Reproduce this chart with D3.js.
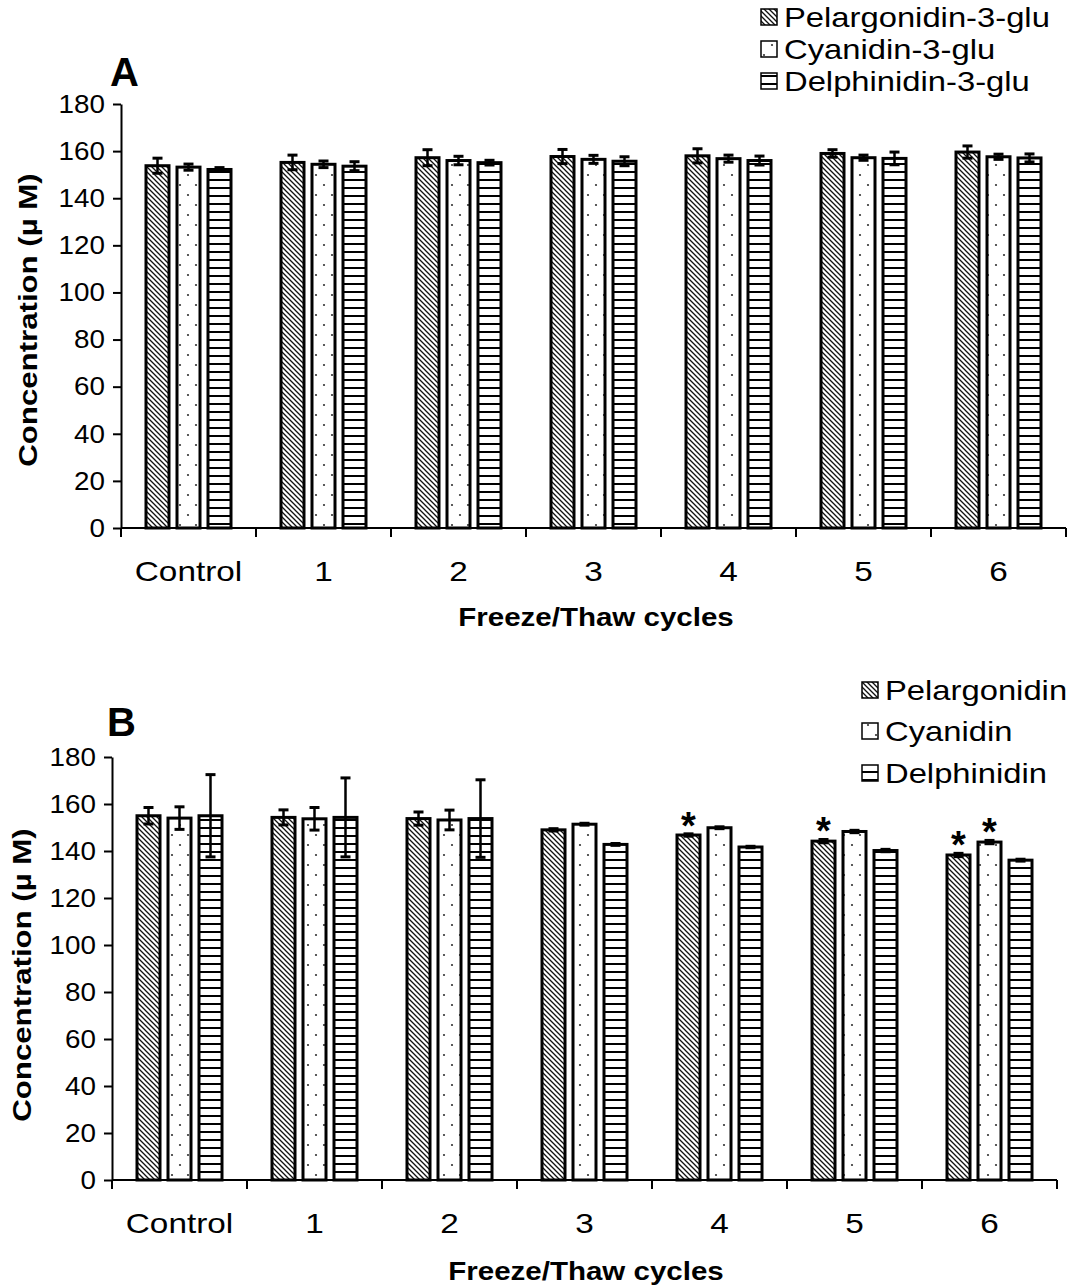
<!DOCTYPE html>
<html>
<head>
<meta charset="utf-8">
<script src="https://cdn.jsdelivr.net/npm/d3@7"></script>
<style>
  body { margin: 0; background: #fff; }
  svg { display: block; }
  text { font-family: "Liberation Sans", Arial, Helvetica, sans-serif; fill: #000; }
</style>
</head>
<body>
<svg id="chart" width="1077" height="1288"></svg>
<script>
// ---- data ----
const categories = ["Control", "1", "2", "3", "4", "5", "6"];
const yTicks = [0, 20, 40, 60, 80, 100, 120, 140, 160, 180];

// Panel A: glucosides
const seriesA = ["Pelargonidin-3-glu", "Cyanidin-3-glu", "Delphinidin-3-glu"];
const pelargonidinGlu    = [153.8, 155.2, 157.2, 157.7, 158.0, 159.0, 159.6];
const pelargonidinGluErr = [3.2, 3.1, 3.4, 3.0, 3.0, 1.6, 2.6];
const cyanidinGlu        = [153.2, 154.4, 156.0, 156.5, 156.8, 157.2, 157.6];
const cyanidinGluErr     = [1.3, 1.4, 1.8, 1.7, 1.5, 1.1, 1.1];
const delphinidinGlu     = [152.2, 153.6, 155.1, 155.7, 156.0, 156.9, 157.1];
const delphinidinGluErr  = [0.8, 1.9, 1.0, 1.9, 1.9, 2.7, 1.7];

// Panel B: aglycones
const seriesB = ["Pelargonidin", "Cyanidin", "Delphinidin"];
const pelargonidin    = [155.0, 154.3, 153.8, 149.0, 146.8, 144.2, 138.3];
const pelargonidinErr = [3.5, 3.2, 2.8, 0.5, 0.5, 0.7, 0.7];
const cyanidin        = [154.0, 153.7, 153.2, 151.4, 149.9, 148.3, 143.8];
const cyanidinErr     = [4.8, 4.8, 4.2, 0.4, 0.4, 0.5, 0.7];
const delphinidin     = [155.0, 154.3, 153.8, 142.8, 141.7, 140.2, 136.1];
const delphinidinErr  = [17.5, 16.8, 16.5, 0.4, 0.3, 0.5, 0.4];
// significance marks (*) per category
const pelargonidinStar = [false, false, false, false, true, true, true];
const cyanidinStar     = [false, false, false, false, false, false, true];
const delphinidinStar  = [false, false, false, false, false, false, false];

// ---- drawing ----
const svg = d3.select("#chart");
const font = '"Liberation Sans", Arial, Helvetica, sans-serif';

// fill patterns: diagonal hatch, sparse dots, horizontal lines
const defs = svg.append("defs");
const pDiag = defs.append("pattern").attr("id", "diag")
  .attr("patternUnits", "userSpaceOnUse").attr("width", 5).attr("height", 5);
pDiag.append("rect").attr("width", 5).attr("height", 5).attr("fill", "#fff");
pDiag.append("path").attr("d", "M-1,-1 L6,6 M-1,4 L1,6 M4,-1 L6,1")
  .attr("stroke", "#111").attr("stroke-width", 1.3);

const pDots = defs.append("pattern").attr("id", "dots")
  .attr("patternUnits", "userSpaceOnUse").attr("width", 16).attr("height", 20);
pDots.append("rect").attr("width", 16).attr("height", 20).attr("fill", "#fff");
pDots.append("circle").attr("cx", 4).attr("cy", 5).attr("r", 1.1).attr("fill", "#333");
pDots.append("circle").attr("cx", 12).attr("cy", 15).attr("r", 1.1).attr("fill", "#333");

const pLines = defs.append("pattern").attr("id", "hlines")
  .attr("patternUnits", "userSpaceOnUse").attr("width", 8).attr("height", 8);
pLines.append("rect").attr("width", 8).attr("height", 8).attr("fill", "#fff");
pLines.append("line").attr("x1", 0).attr("x2", 8).attr("y1", 4).attr("y2", 4)
  .attr("stroke", "#000").attr("stroke-width", 2);

const fills = ["url(#diag)", "url(#dots)", "url(#hlines)"];

// horizontally widened text placed at (x, y)
function wideText(sel, x, y, size, sx, str, anchor) {
  return sel.append("text")
    .attr("transform", `translate(${x},${y}) scale(${sx},1)`)
    .attr("text-anchor", anchor || "start")
    .attr("font-size", size).text(str);
}

function drawPanel(p) {
  const g = svg.append("g");
  const x0 = d3.scaleBand().domain(categories)
    .range([p.left, p.left + p.band * categories.length]).padding(0);
  const x1 = d3.scalePoint().domain([0, 1, 2]).range([-p.pitch, p.pitch]);
  const y = d3.scaleLinear().domain([0, 180]).range([p.zero, p.top]);
  const barW = p.barW;

  // y axis
  const ya = g.append("g").attr("transform", `translate(${p.left},0)`)
    .call(d3.axisLeft(y).tickValues(yTicks).tickSize(8).tickSizeOuter(0).tickPadding(7));
  ya.select(".domain").attr("stroke", "#000").attr("stroke-width", 2);
  ya.selectAll(".tick line").attr("stroke", "#000").attr("stroke-width", 2);
  ya.selectAll(".tick text").attr("font-size", 26).attr("font-family", font)
    .attr("fill", "#000").attr("transform", "scale(1.07,1)");

  // x axis line, boundary ticks and category labels
  g.append("line").attr("x1", p.left).attr("x2", x0.range()[1])
    .attr("y1", p.zero).attr("y2", p.zero).attr("stroke", "#000").attr("stroke-width", 2);
  g.selectAll(".xtick").data(d3.range(categories.length + 1)).join("line")
    .attr("x1", i => p.left + i * x0.step()).attr("x2", i => p.left + i * x0.step())
    .attr("y1", p.zero).attr("y2", p.zero + 9).attr("stroke", "#000").attr("stroke-width", 2);
  categories.forEach(c => {
    wideText(g, x0(c) + x0.bandwidth() / 2, p.zero + 53, 28, 1.19, c, "middle");
  });

  // bars
  p.series.forEach((s, si) => {
    const gs = g.append("g");
    gs.selectAll("rect").data(categories).join("rect")
      .attr("x", (c, i) => x0(c) + x0.bandwidth() / 2 + x1(si) - barW / 2)
      .attr("width", barW)
      .attr("y", (c, i) => y(s.mean[i]))
      .attr("height", (c, i) => y(0) - y(s.mean[i]))
      .attr("fill", fills[si]).attr("stroke", "#000").attr("stroke-width", 3);
    // error bars
    const eb = gs.selectAll(".err").data(categories).join("g");
    const cx = (c) => x0(c) + x0.bandwidth() / 2 + x1(si);
    eb.append("line")
      .attr("x1", cx).attr("x2", cx)
      .attr("y1", (c, i) => y(s.mean[i] + s.err[i]))
      .attr("y2", (c, i) => y(s.mean[i] - s.err[i]))
      .attr("stroke", "#000").attr("stroke-width", 2.5);
    [1, -1].forEach(sign => {
      eb.append("line")
        .attr("x1", c => cx(c) - 5).attr("x2", c => cx(c) + 5)
        .attr("y1", (c, i) => y(s.mean[i] + sign * s.err[i]))
        .attr("y2", (c, i) => y(s.mean[i] + sign * s.err[i]))
        .attr("stroke", "#000").attr("stroke-width", 3);
    });
    if (s.star) {
      gs.selectAll(".star").data(categories.filter((c, i) => s.star[i])).join("text")
        .attr("x", c => cx(c))
        .attr("y", c => { const i = categories.indexOf(c); return y(s.mean[i] + s.err[i]) + 5; })
        .attr("text-anchor", "middle").attr("font-size", 38).attr("font-weight", "bold")
        .text("*");
    }
  });

  // axis titles
  wideText(g, p.xTitle[0], p.xTitle[1], 25, 1.18, "Freeze/Thaw cycles", "middle")
    .attr("font-weight", "bold");
  g.append("text")
    .attr("transform", `translate(${p.yTitle[0]},${p.yTitle[1]}) rotate(-90) scale(1.2,1)`)
    .attr("text-anchor", "middle").attr("dominant-baseline", "central")
    .attr("font-size", 26).attr("font-weight", "bold")
    .text("Concentration (\u00b5 M)");

  // panel letter
  g.append("text").attr("x", p.letterPos[0]).attr("y", p.letterPos[1])
    .attr("font-size", 40).attr("font-weight", "bold").text(p.letter);

  // legend
  const lg = g.append("g");
  p.series.forEach((s, si) => {
    const cy = p.legend.rows[si];
    lg.append("rect").attr("x", p.legend.x).attr("y", cy - 8).attr("width", 16).attr("height", 16)
      .attr("fill", fills[si]).attr("stroke", "#000").attr("stroke-width", 1.5);
    wideText(lg, p.legend.x + 23, cy + 10, 28, 1.17, s.name);
  });
}

drawPanel({
  letter: "A", letterPos: [110, 86],
  left: 121, band: 135, pitch: 31, barW: 23,
  top: 104, zero: 528,
  xTitle: [596, 626], yTitle: [28, 320],
  legend: { x: 761, rows: [17, 49, 81] },
  series: [
    { name: seriesA[0], mean: pelargonidinGlu, err: pelargonidinGluErr },
    { name: seriesA[1], mean: cyanidinGlu, err: cyanidinGluErr },
    { name: seriesA[2], mean: delphinidinGlu, err: delphinidinGluErr }
  ]
});

drawPanel({
  letter: "B", letterPos: [107, 736],
  left: 112, band: 135, pitch: 31, barW: 23,
  top: 757, zero: 1180,
  xTitle: [586, 1280], yTitle: [22, 975],
  legend: { x: 862, rows: [690, 731, 773] },
  series: [
    { name: seriesB[0], mean: pelargonidin, err: pelargonidinErr, star: pelargonidinStar },
    { name: seriesB[1], mean: cyanidin, err: cyanidinErr, star: cyanidinStar },
    { name: seriesB[2], mean: delphinidin, err: delphinidinErr, star: delphinidinStar }
  ]
});
</script>
</body>
</html>
